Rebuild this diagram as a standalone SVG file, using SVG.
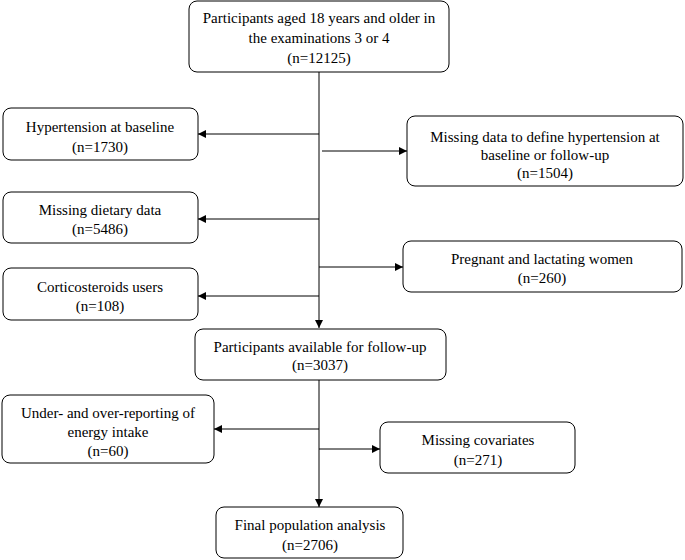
<svg xmlns="http://www.w3.org/2000/svg" width="685" height="560" viewBox="0 0 685 560">
<style>
.b{fill:#fff;stroke:#000;stroke-width:1}
text{font-family:"Liberation Serif",serif;font-size:15px;text-anchor:middle;fill:#000}
.c{stroke:#000;stroke-width:1;fill:none}
</style>
<defs><marker id="a" viewBox="0 0 10 10" refX="10" refY="5" markerWidth="8" markerHeight="8" orient="auto" markerUnits="userSpaceOnUse"><path d="M0,0L10,5L0,10z" fill="#000"/></marker></defs>
<rect width="685" height="560" fill="#fff"/>
<g id="connectors">
<path class="c" d="M319,72V328" marker-end="url(#a)"/>
<path class="c" d="M319,134H198" marker-end="url(#a)"/>
<path class="c" d="M322,151H407" marker-end="url(#a)"/>
<path class="c" d="M319,219H198" marker-end="url(#a)"/>
<path class="c" d="M319,267H403" marker-end="url(#a)"/>
<path class="c" d="M319,296H198" marker-end="url(#a)"/>
<path class="c" d="M319,380V507" marker-end="url(#a)"/>
<path class="c" d="M319,429H214" marker-end="url(#a)"/>
<path class="c" d="M319,449H380" marker-end="url(#a)"/>
</g>
<g id="n1"><rect class="b" x="189" y="1" width="260" height="71" rx="8"/><text x="319" y="23">Participants aged 18 years and older in</text><text x="319" y="43">the examinations 3 or 4</text><text x="319" y="63">(n=12125)</text></g>
<g id="n2"><rect class="b" x="3" y="108" width="195" height="52" rx="8"/><text x="100" y="132">Hypertension at baseline</text><text x="100" y="152">(n=1730)</text></g>
<g id="n3"><rect class="b" x="407" y="116" width="276" height="70" rx="8"/><text x="545" y="142">Missing data to define hypertension at</text><text x="545" y="160">baseline or follow-up</text><text x="545" y="178">(n=1504)</text></g>
<g id="n4"><rect class="b" x="3" y="192" width="195" height="51" rx="8"/><text x="100" y="215">Missing dietary data</text><text x="100" y="234">(n=5486)</text></g>
<g id="n5"><rect class="b" x="403" y="241" width="279" height="51" rx="8"/><text x="542" y="264">Pregnant and lactating women</text><text x="542" y="283">(n=260)</text></g>
<g id="n6"><rect class="b" x="3" y="268" width="195" height="52" rx="8"/><text x="100" y="292">Corticosteroids users</text><text x="100" y="311">(n=108)</text></g>
<g id="n7"><rect class="b" x="195" y="329" width="251" height="51" rx="8"/><text x="320" y="352">Participants available for follow-up</text><text x="320" y="370">(n=3037)</text></g>
<g id="n8"><rect class="b" x="2" y="395" width="212" height="68" rx="8"/><text x="108" y="418">Under- and over-reporting of</text><text x="108" y="437">energy intake</text><text x="108" y="456">(n=60)</text></g>
<g id="n9"><rect class="b" x="380" y="422" width="195" height="51" rx="8"/><text x="478" y="445">Missing covariates</text><text x="478" y="465">(n=271)</text></g>
<g id="n10"><rect class="b" x="216" y="507" width="187" height="51" rx="8"/><text x="310" y="530">Final population analysis</text><text x="310" y="550">(n=2706)</text></g>
</svg>
